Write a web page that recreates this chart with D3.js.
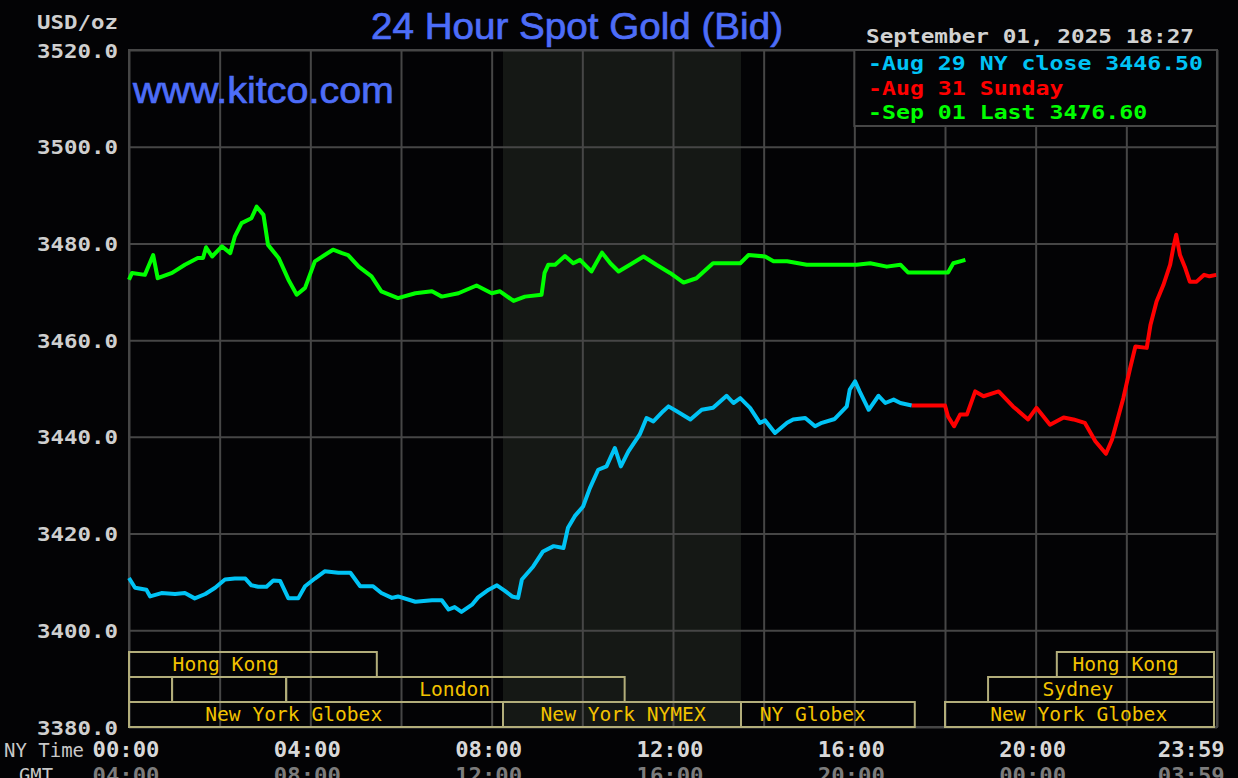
<!DOCTYPE html>
<html>
<head>
<meta charset="utf-8">
<script src="https://cdn.jsdelivr.net/npm/d3@7"></script>
<style>
html,body{margin:0;padding:0;background:#000;}
svg{display:block;}
</style>
</head>
<body>
<svg id="chart" width="1238" height="778"></svg>
<script>
// ---------------- DATA ----------------
const yTicks = [3380, 3400, 3420, 3440, 3460, 3480, 3500, 3520];
const xGridMinutes = [0,120,240,360,480,600,720,840,960,1080,1200,1320,1440];
const nyTickMinutes = [0, 240, 480, 720, 960, 1200, 1439];
const nyTickLabels = ["00:00","04:00","08:00","12:00","16:00","20:00","23:59"];
const gmtTickLabels = ["04:00","08:00","12:00","16:00","20:00","00:00","03:59"];

// Aug 29 (NY close 3446.50) - minutes from 00:00 NY time
const aug29Minutes = [0,8,23,28,43,61,74,87,101,114,127,140,154,162,171,182,191,200,211,224,233,246,259,277,293,306,323,334,348,356,379,401,414,423,431,440,454,462,476,487,498,507,515,520,535,548,562,575,581,590,601,610,621,632,643,651,661,676,685,694,707,714,725,743,758,773,791,800,809,822,835,842,855,871,879,895,908,917,934,950,954,961,967,979,992,1001,1012,1021,1036];
const aug29Values = [3410.8,3408.8,3408.4,3407.0,3407.7,3407.5,3407.7,3406.6,3407.5,3408.8,3410.5,3410.7,3410.7,3409.3,3409.0,3409.0,3410.3,3410.2,3406.6,3406.6,3409.1,3410.7,3412.2,3411.9,3411.9,3409.1,3409.1,3407.7,3406.7,3407.0,3405.9,3406.2,3406.2,3404.3,3404.8,3403.8,3405.3,3406.8,3408.4,3409.3,3408.1,3407.0,3406.7,3410.5,3413.2,3416.3,3417.4,3417.0,3421.2,3423.6,3425.6,3429.4,3433.2,3433.9,3437.7,3433.9,3437.0,3440.5,3443.9,3443.2,3445.3,3446.3,3445.3,3443.6,3445.6,3446.0,3448.5,3447.0,3448.0,3446.0,3442.9,3443.4,3440.8,3442.9,3443.6,3443.9,3442.2,3442.9,3443.7,3446.3,3449.8,3451.5,3449.4,3445.6,3448.5,3447.0,3447.7,3447.0,3446.5];

// Aug 31 Sunday
const aug31Minutes = [1036,1080,1084,1092,1100,1109,1120,1131,1151,1170,1190,1201,1219,1237,1250,1265,1279,1293,1301,1316,1325,1332,1347,1352,1360,1369,1378,1382,1386,1391,1398,1404,1413,1423,1430,1439];
const aug31Values = [3446.5,3446.5,3444.2,3442.2,3444.6,3444.6,3449.4,3448.4,3449.4,3446.3,3443.6,3446.0,3442.5,3444.0,3443.6,3442.9,3439.1,3436.5,3439.4,3448.0,3454.2,3458.7,3458.4,3463.2,3468.0,3471.4,3475.6,3479.0,3481.8,3477.6,3474.9,3472.1,3472.1,3473.5,3473.2,3473.5];

// Sep 01 (Last 3476.60)
const sep01Minutes = [0,4,21,32,38,57,74,91,98,102,110,123,134,140,149,162,169,178,184,198,211,222,233,246,259,270,282,290,304,321,334,356,379,401,414,436,460,480,491,509,524,546,550,555,564,577,588,597,612,626,637,648,663,681,698,716,734,751,773,809,820,842,853,871,897,932,963,981,1003,1021,1031,1084,1091,1107];
const sep01Values = [3472.5,3473.9,3473.5,3477.6,3472.8,3473.9,3475.6,3477.0,3477.0,3479.2,3477.3,3479.4,3478.0,3481.4,3484.2,3485.2,3487.6,3485.9,3479.7,3477.0,3472.5,3469.4,3470.8,3476.3,3477.6,3478.7,3478.0,3477.6,3475.2,3473.2,3470.1,3468.7,3469.7,3470.1,3469.0,3469.7,3471.3,3469.7,3470.1,3468.1,3469.0,3469.4,3473.9,3475.6,3475.6,3477.4,3475.9,3476.6,3474.2,3478.1,3475.9,3474.2,3475.6,3477.3,3475.6,3473.9,3471.9,3472.8,3475.9,3475.9,3477.6,3477.3,3476.3,3476.3,3475.6,3475.6,3475.6,3475.9,3475.2,3475.6,3474.0,3474.0,3475.9,3476.6];

const seriesNames = ["-Aug 29 NY close 3446.50", "-Aug 31 Sunday", "-Sep 01 Last 3476.60"];
const seriesColors = ["#00c3f5", "#ff0000", "#00ff00"];

// Trading sessions: name, start minute, end minute, row, label anchor minute
const sessionNames  = ["Hong Kong","","","London","New York Globex","New York NYMEX","NY Globex","New York Globex","Sydney","Hong Kong"];
const sessionStart  = [0,   0,  57, 208,   0, 495,  810, 1080, 1137, 1228];
const sessionEnd    = [328, 57, 208, 656, 495, 810, 1040, 1436, 1436, 1436];
const sessionRow    = [0,   1,  1,   1,   2,   2,   2,    2,    1,    0];
const sessionLabelAt= [128, 0,  0,   431, 218, 654,  905, 1257, 1256, 1319];
const nymexShade = [495, 810];

const dateText = "September 01, 2025 18:27";

// ---------------- CHART ----------------
const svg = d3.select("#chart");
const L = 129, R = 1217, T = 50, B = 727;
const x = d3.scaleLinear().domain([0, 1440]).range([L, R]);
const y = d3.scaleLinear().domain([3380, 3520]).range([B, T]);
const mono = "'DejaVu Sans Mono', 'Liberation Mono', monospace";
const gridColor = "#464646";

svg.append("rect").attr("width",1238).attr("height",778).attr("fill","#030305");

// NYMEX shading
svg.append("rect")
  .attr("x", x(nymexShade[0])).attr("y", T)
  .attr("width", x(nymexShade[1]) - x(nymexShade[0])).attr("height", B - T)
  .attr("fill", "#151815");

// Y grid via axis
const yAxis = svg.append("g").attr("transform", `translate(${L},0)`)
  .call(d3.axisLeft(y).tickValues(yTicks).tickSize(-(R-L)).tickFormat(d3.format(".1f")));
yAxis.select(".domain").remove();
yAxis.selectAll(".tick line").attr("stroke", gridColor).attr("stroke-width", 2);
yAxis.selectAll(".tick text")
  .attr("x", -11).attr("dy", null).attr("y", 7)
  .attr("fill", "#cfcfcf").attr("font-family", mono).attr("font-weight", "bold")
  .attr("font-size", 19).attr("textLength", 81).attr("lengthAdjust", "spacingAndGlyphs");

// X grid via axis
const xAxis = svg.append("g").attr("transform", `translate(0,${B})`)
  .call(d3.axisBottom(x).tickValues(xGridMinutes).tickSize(-(B-T)).tickFormat(""));
xAxis.select(".domain").remove();
xAxis.selectAll(".tick line").attr("stroke", gridColor).attr("stroke-width", 2);

// plot border
svg.append("rect").attr("x", L).attr("y", T).attr("width", R-L).attr("height", B-T)
  .attr("fill","none").attr("stroke", gridColor).attr("stroke-width", 2);

// Session boxes
const rowTop = [652, 677, 702];
const rowH = 25;
const sess = sessionNames.map((n,i)=>({n, s:sessionStart[i], e:sessionEnd[i], r:sessionRow[i], at:sessionLabelAt[i]}));
const sg = svg.append("g");
sg.selectAll("rect").data(sess).join("rect")
  .attr("x", d => x(d.s)).attr("y", d => rowTop[d.r])
  .attr("width", d => x(d.e) - x(d.s)).attr("height", rowH)
  .attr("fill", "none").attr("stroke", "#b2ad7a").attr("stroke-width", 2);
sg.selectAll("text").data(sess.filter(d=>d.n)).join("text")
  .attr("x", d => x(d.at)).attr("y", d => rowTop[d.r] + 19)
  .attr("text-anchor","middle")
  .attr("fill", "#f2c200").attr("font-family", mono).attr("font-size", 19)
  .attr("textLength", d => d.n.length * 11.8).attr("lengthAdjust","spacingAndGlyphs")
  .text(d => d.n);

// Lines
const line = d3.line().x(d => x(d[0])).y(d => y(d[1]));
const seriesData = [
  d3.zip(aug29Minutes, aug29Values),
  d3.zip(aug31Minutes, aug31Values),
  d3.zip(sep01Minutes, sep01Values)
];
svg.append("g").selectAll("path").data(seriesData).join("path")
  .attr("d", line).attr("fill","none")
  .attr("stroke", (d,i) => seriesColors[i]).attr("stroke-width", 4)
  .attr("stroke-linejoin","round");

// Legend box
svg.append("rect").attr("x", x(960)).attr("y", T).attr("width", R - x(960)).attr("height", 76)
  .attr("fill", "#030305").attr("stroke", gridColor).attr("stroke-width", 2);
svg.append("g").selectAll("text").data(seriesNames).join("text")
  .attr("x", 868).attr("y", (d,i) => 70 + i*24.5)
  .attr("fill", (d,i) => seriesColors[i])
  .attr("font-family", mono).attr("font-weight","bold").attr("font-size", 19)
  .attr("textLength", d => d.length * 13.96).attr("lengthAdjust","spacingAndGlyphs")
  .text(d => d);

// Title texts
svg.append("text").attr("x", 371).attr("y", 39).attr("fill", "#4d6df8")
  .attr("stroke", "#4d6df8").attr("stroke-width", 0.7)
  .attr("font-family","'Liberation Sans', Arial, sans-serif").attr("font-size", 37)
  .attr("textLength", 412).attr("lengthAdjust","spacingAndGlyphs")
  .text("24 Hour Spot Gold (Bid)");
svg.append("text").attr("x", 133).attr("y", 103).attr("fill", "#4d6df8")
  .attr("stroke", "#4d6df8").attr("stroke-width", 0.7)
  .attr("font-family","'Liberation Sans', Arial, sans-serif").attr("font-size", 37)
  .attr("textLength", 261).attr("lengthAdjust","spacingAndGlyphs")
  .text("www.kitco.com");
svg.append("text").attr("x", 37).attr("y", 29).attr("fill", "#cfcfcf")
  .attr("font-family", mono).attr("font-weight","bold").attr("font-size", 19)
  .attr("textLength", 81).attr("lengthAdjust","spacingAndGlyphs")
  .text("USD/oz");
svg.append("text").attr("x", 866).attr("y", 43).attr("fill", "#d2d2d2")
  .attr("font-family", mono).attr("font-weight","bold").attr("font-size", 20)
  .attr("textLength", 328).attr("lengthAdjust","spacingAndGlyphs")
  .text(dateText);

// Bottom time labels
svg.append("text").attr("x", 4).attr("y", 757).attr("fill", "#c8c8c8")
  .attr("font-family", mono).attr("font-size", 19)
  .attr("textLength", 80).attr("lengthAdjust","spacingAndGlyphs").text("NY Time");
svg.append("text").attr("x", 19).attr("y", 782).attr("fill", "#c8c8c8")
  .attr("font-family", mono).attr("font-size", 19)
  .attr("textLength", 34).attr("lengthAdjust","spacingAndGlyphs").text("GMT");

const tickPos = nyTickMinutes.map((m,i) => i === nyTickMinutes.length-1 ? x(m) - 25 : x(m) - 3);
svg.append("g").selectAll("text").data(nyTickLabels).join("text")
  .attr("x", (d,i) => tickPos[i]).attr("y", 757).attr("text-anchor","middle")
  .attr("fill", "#d8d8d8").attr("font-family", mono).attr("font-weight","bold").attr("font-size", 21)
  .attr("textLength", 67).attr("lengthAdjust","spacingAndGlyphs").text(d => d);
svg.append("g").selectAll("text").data(gmtTickLabels).join("text")
  .attr("x", (d,i) => tickPos[i]).attr("y", 783).attr("text-anchor","middle")
  .attr("fill", "#7c7c7c").attr("font-family", mono).attr("font-weight","bold").attr("font-size", 21)
  .attr("textLength", 67).attr("lengthAdjust","spacingAndGlyphs").text(d => d);
</script>
</body>
</html>
